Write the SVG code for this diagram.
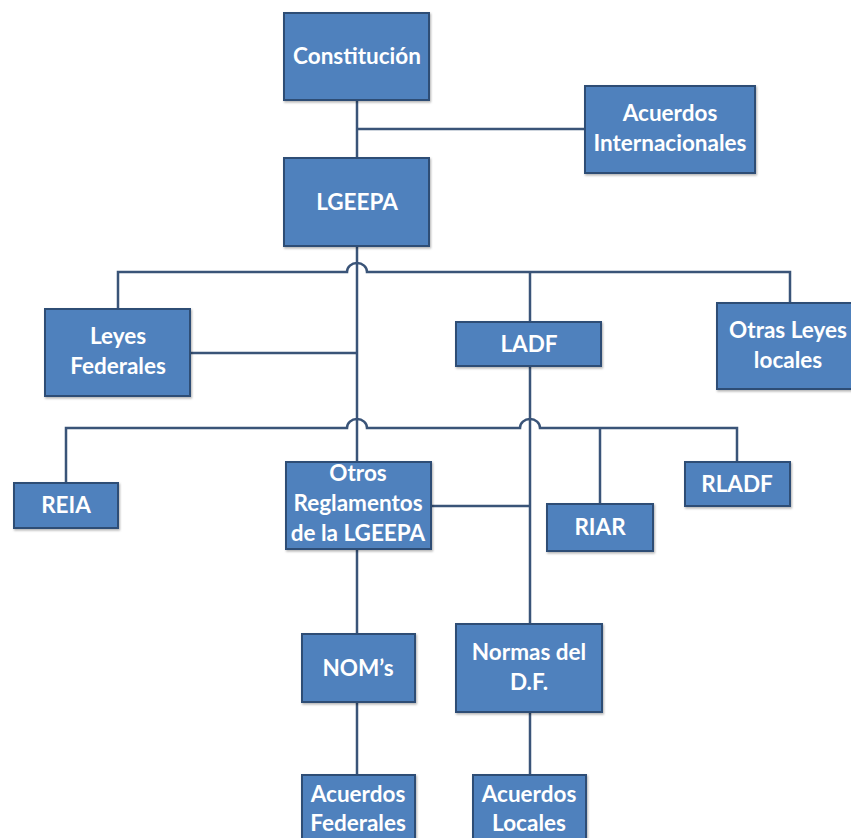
<svg xmlns="http://www.w3.org/2000/svg" width="851" height="838" viewBox="0 0 851 838">
<defs>
<filter id="sh" x="-10%" y="-10%" width="130%" height="130%">
<feDropShadow dx="1" dy="1.5" stdDeviation="1.2" flood-color="#000" flood-opacity="0.3"/>
</filter>
</defs>
<style>
.box{fill:#4F81BD;stroke:#2F4D74;stroke-width:2;filter:url(#sh)}
.t{font-family:Lato,"Open Sans","Liberation Sans",sans-serif;font-weight:bold;font-size:22.5px;fill:#FFFFFF;text-anchor:middle}
.c{fill:none;stroke:#3A5478;stroke-width:2.5}
</style>
<rect width="851" height="838" fill="#FFFFFF"/>
<g id="connectors">
<path class="c" d="M357 100 V158"/>
<path class="c" d="M357 129 H585"/>
<path class="c" d="M357 246 V462"/>
<path class="c" d="M190 353 H357"/>
<path class="c" d="M118 309 V272 H347 A10 9 0 0 1 367 272 H790 V303"/>
<path class="c" d="M530 272 V322"/>
<path class="c" d="M530 366 V624"/>
<path class="c" d="M66 483 V428 H347 A10 9 0 0 1 367 428 H520 A10 9 0 0 1 540 428 H737 V462"/>
<path class="c" d="M600 428 V504"/>
<path class="c" d="M431 506 H530"/>
<path class="c" d="M357 549 V634"/>
<path class="c" d="M357 702 V775"/>
<path class="c" d="M530 712 V775"/>
</g>
<g id="constitucion"><rect class="box" x="284" y="13" width="145" height="87"/><text class="t" x="357" y="64">Constitución</text></g>
<g id="acuerdos-internacionales"><rect class="box" x="585" y="86" width="170" height="87"/><text class="t" x="670" y="121">Acuerdos</text><text class="t" x="670" y="151">Internacionales</text></g>
<g id="lgeepa"><rect class="box" x="284" y="158" width="145" height="88"/><text class="t" x="357" y="210">LGEEPA</text></g>
<g id="leyes-federales"><rect class="box" x="45" y="309" width="145" height="87"/><text class="t" x="118" y="344">Leyes</text><text class="t" x="118" y="374">Federales</text></g>
<g id="ladf"><rect class="box" x="456" y="322" width="145" height="44"/><text class="t" x="529" y="352">LADF</text></g>
<g id="otras-leyes-locales"><rect class="box" x="717" y="303" width="143" height="86"/><text class="t" x="788" y="338">Otras Leyes</text><text class="t" x="788" y="368">locales</text></g>
<g id="reia"><rect class="box" x="14" y="483" width="104" height="45"/><text class="t" x="66" y="513">REIA</text></g>
<g id="otros-reglamentos"><rect class="box" x="286" y="462" width="145" height="87"/><text class="t" x="358" y="481">Otros</text><text class="t" x="358" y="511">Reglamentos</text><text class="t" x="358" y="541">de la LGEEPA</text></g>
<g id="riar"><rect class="box" x="547" y="504" width="106" height="47"/><text class="t" x="600" y="535">RIAR</text></g>
<g id="rladf"><rect class="box" x="685" y="462" width="105" height="44"/><text class="t" x="737" y="492">RLADF</text></g>
<g id="noms"><rect class="box" x="302" y="634" width="113" height="68"/><text class="t" x="358" y="676">NOM’s</text></g>
<g id="normas-df"><rect class="box" x="456" y="624" width="146" height="88"/><text class="t" x="529" y="660">Normas del</text><text class="t" x="529" y="690">D.F.</text></g>
<g id="acuerdos-federales"><rect class="box" x="302" y="775" width="113" height="88"/><text class="t" x="358" y="802">Acuerdos</text><text class="t" x="358" y="831">Federales</text></g>
<g id="acuerdos-locales"><rect class="box" x="473" y="775" width="113" height="88"/><text class="t" x="529" y="802">Acuerdos</text><text class="t" x="529" y="831">Locales</text></g>
</svg>
